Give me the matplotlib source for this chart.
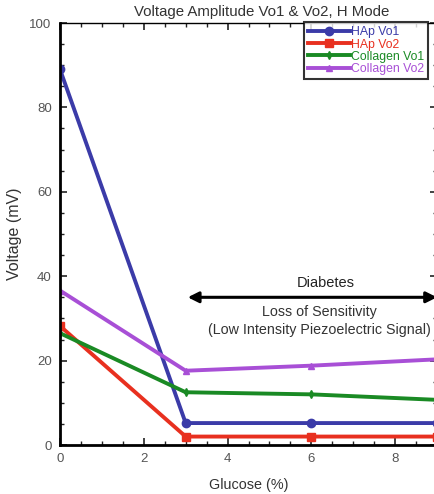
import matplotlib
matplotlib.use("Agg")
import matplotlib.pyplot as plt
from matplotlib.ticker import MultipleLocator

plt.rcParams['font.family'] = ['Liberation Sans', 'DejaVu Sans']

glucose = [0, 3, 6, 9]
hap_vo1 = [89.0, 5.2, 5.2, 5.2]
hap_vo2 = [28.2, 2.0, 2.0, 2.0]
col_vo1 = [26.5, 12.5, 12.0, 10.7]
col_vo2 = [36.6, 17.6, 18.8, 20.3]
series_names = ["HAp Vo1", "HAp Vo2", "Collagen Vo1", "Collagen Vo2"]

colors = ["#3b3ba8", "#e8301f", "#1a8a24", "#a84fd6"]
markers = ["o", "s", "d", "^"]
msizes = [6, 6, 4, 5]

fig = plt.figure(figsize=(4.34, 4.94), dpi=100)
ax = fig.add_axes([60 / 434, 1 - 445 / 494, 377 / 434, 422 / 494])

for ys, name, c, m, ms in zip([hap_vo1, hap_vo2, col_vo1, col_vo2],
                              series_names, colors, markers, msizes):
    ax.plot(glucose, ys, color=c, lw=2.8, marker=m, ms=ms, label=name,
            solid_joinstyle='round', clip_on=True)

ax.set_xlim(0, 9)
ax.set_ylim(0, 100)
ax.xaxis.set_major_locator(MultipleLocator(2))
ax.xaxis.set_minor_locator(MultipleLocator(0.5))
ax.yaxis.set_major_locator(MultipleLocator(20))
ax.yaxis.set_minor_locator(MultipleLocator(5))
ax.tick_params(which='both', direction='in', top=True, right=True,
               colors='#222222', labelcolor='#555555', labelsize=9.5)
ax.tick_params(which='major', length=5, width=1.2)
ax.tick_params(which='minor', length=3, width=1.0)
ax.tick_params(axis='x', pad=6)
ax.tick_params(axis='y', pad=6)
for side in ['left', 'bottom']:
    ax.spines[side].set_linewidth(2.0)
for side in ['top', 'right']:
    ax.spines[side].set_linewidth(1.0)

ax.set_xlabel("Glucose (%)", fontsize=10.4, color='#333333', labelpad=9)
ax.set_ylabel("Voltage (mV)", fontsize=11.5, color='#333333', labelpad=5)
fig.text(262 / 434, 1 - 12 / 494, "Voltage Amplitude Vo1 & Vo2, H Mode",
         ha='center', va='center', fontsize=10.8, color='#333333')

# Diabetes range arrow and notes
ax.annotate("", xy=(3.05, 35.0), xytext=(9.0, 35.0),
            arrowprops=dict(arrowstyle='<|-|>', color='black', lw=2.2,
                            mutation_scale=16, shrinkA=0, shrinkB=0),
            annotation_clip=False)
ax.text(6.35, 38.5, "Diabetes", ha='center', va='center', fontsize=10.5,
        color='#222222')
ax.text(6.2, 31.5, "Loss of Sensitivity", ha='center', va='center',
        fontsize=10.3, color='#333333')
ax.text(6.2, 27.3, "(Low Intensity Piezoelectric Signal)", ha='center',
        va='center', fontsize=10.3, color='#333333')

leg = ax.legend(loc='upper left', bbox_to_anchor=(304 / 434, 1 - 22 / 494),
                bbox_transform=fig.transFigure, fontsize=8.8, frameon=True,
                fancybox=False, edgecolor='black', handlelength=3.4,
                handletextpad=0.1, labelspacing=0.02, borderpad=0.35,
                borderaxespad=0)
leg.get_frame().set_linewidth(1.5)
for txt, c in zip(leg.get_texts(), colors):
    txt.set_color(c)

fig.savefig("out.png", dpi=100)
